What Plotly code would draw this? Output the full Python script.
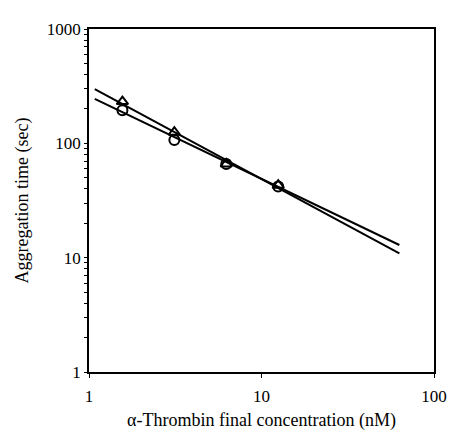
import plotly.graph_objects as go

conc = [1.5625, 3.125, 6.25, 12.5]
tri_time = [232, 125, 66, 43]
circ_time = [195, 107, 66, 42]

fit_x = [1.08, 63]
tri_fit = [298, 10.9]
circ_fit = [245, 12.9]

fig = go.Figure()
fig.add_trace(go.Scatter(x=fit_x, y=tri_fit, mode="lines",
                         line=dict(color="black", width=2), showlegend=False))
fig.add_trace(go.Scatter(x=fit_x, y=circ_fit, mode="lines",
                         line=dict(color="black", width=2), showlegend=False))
fig.add_trace(go.Scatter(x=conc, y=tri_time, mode="markers",
                         marker=dict(symbol="triangle-up-open", size=10,
                                     color="black", line=dict(width=2)),
                         showlegend=False))
fig.add_trace(go.Scatter(x=conc, y=circ_time, mode="markers",
                         marker=dict(symbol="circle-open", size=10,
                                     color="black", line=dict(width=2)),
                         showlegend=False))

font = dict(family="Liberation Serif", size=17, color="black")
fig.update_layout(
    width=451, height=431,
    margin=dict(l=79, r=13, t=14, b=58),
    paper_bgcolor="white", plot_bgcolor="white",
    font=font,
    xaxis=dict(type="log", range=[0, 2], tickvals=[1, 10, 100],
               ticktext=["1", "10", "100"],
               showgrid=False, zeroline=False,
               showline=True, linecolor="black", linewidth=1.5, mirror=True,
               ticks="outside", ticklen=4, tickcolor="black",
               ticklabelstandoff=4, ticklabeloverflow="allow",
               title=dict(text="α-Thrombin final concentration (nM)", standoff=8,
                          font=dict(family="Liberation Serif", size=18)),
               tickfont=dict(family="Liberation Serif", size=17)),
    yaxis=dict(type="log", range=[0, 3], tickvals=[1, 10, 100, 1000],
               ticktext=["1", "10", "100", "1000"],
               showgrid=False, zeroline=False,
               showline=True, linecolor="black", linewidth=1.5, mirror=True,
               ticks="outside", ticklen=3, tickcolor="black",
               ticklabelstandoff=0,
               minor=dict(ticks="outside", ticklen=3, tickcolor="black",
                          tickvals=[v * d for d in (1, 10, 100) for v in range(2, 10)]),
               title=dict(text="Aggregation time (sec)", standoff=14,
                          font=dict(family="Liberation Serif", size=18)),
               tickfont=dict(family="Liberation Serif", size=17)),
)
fig.write_html("out.html")
